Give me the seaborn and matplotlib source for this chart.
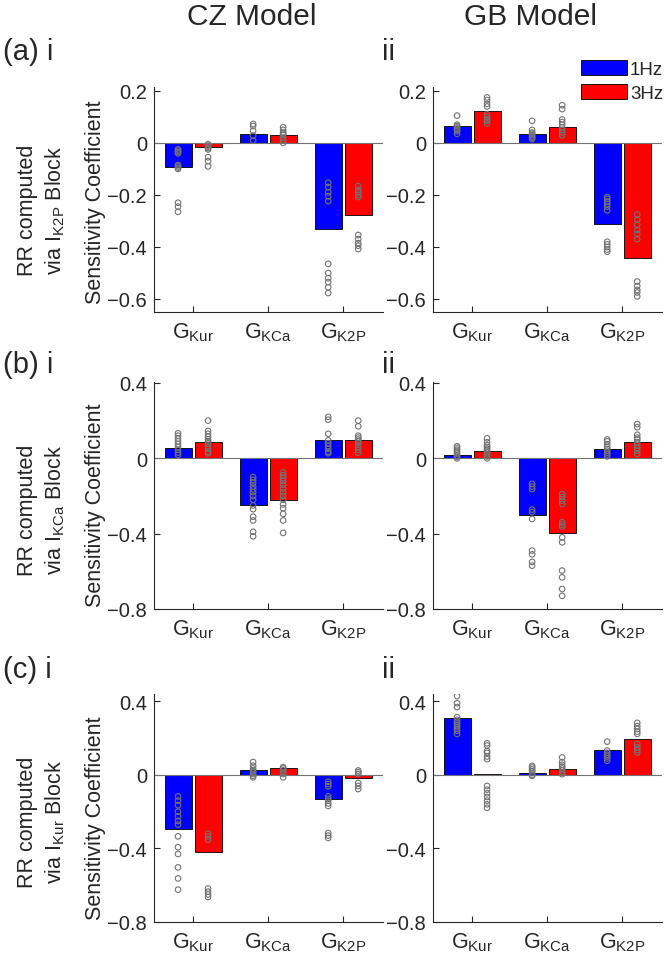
import numpy as np
import pandas as pd
import matplotlib
matplotlib.use('Agg')
import matplotlib.pyplot as plt
import seaborn as sns

sns.set_theme(style='ticks')
plt.rcParams['font.family'] = ['Liberation Sans', 'DejaVu Sans']
plt.rcParams['mathtext.fontset'] = 'custom'
plt.rcParams['mathtext.rm'] = 'Liberation Sans'
plt.rcParams['mathtext.it'] = 'Liberation Sans'
plt.rcParams['mathtext.default'] = 'regular'

channels = ['GKur', 'GKCa', 'GK2P']
channel_labels = ['G$_{Kur}$', 'G$_{KCa}$', 'G$_{K2P}$']
freqs = ['1Hz', '3Hz']

# ---- (a) RR via IK2P block ----
a_cz_bar_1hz = [-0.093, 0.033, -0.329]
a_cz_bar_3hz = [-0.015, 0.031, -0.279]
a_cz_pts_1hz = [[-0.025, -0.03, -0.035, -0.04, -0.085, -0.09, -0.095, -0.10, -0.23, -0.245, -0.265],
                [0.073, 0.065, 0.047, 0.028, 0.009],
                [-0.153, -0.17, -0.19, -0.205, -0.224, -0.465, -0.50, -0.52, -0.535, -0.555, -0.577]]
a_cz_pts_3hz = [[-0.005, -0.01, -0.015, -0.02, -0.025, -0.055, -0.07, -0.09],
                [0.06, 0.05, 0.04, 0.035, 0.03, 0.02, 0.01, 0.0],
                [-0.166, -0.18, -0.19, -0.20, -0.208, -0.354, -0.37, -0.385, -0.395, -0.408]]

a_gb_bar_1hz = [0.066, 0.034, -0.313]
a_gb_bar_3hz = [0.122, 0.062, -0.441]
a_gb_pts_1hz = [[0.105, 0.07, 0.065, 0.06, 0.055, 0.05, 0.045, 0.035],
                [0.085, 0.05, 0.04, 0.035, 0.03, 0.025, 0.02, 0.015],
                [-0.208, -0.215, -0.225, -0.235, -0.245, -0.259, -0.38, -0.39, -0.40, -0.41, -0.418]]
a_gb_pts_3hz = [[0.175, 0.165, 0.15, 0.14, 0.11, 0.10, 0.09, 0.085, 0.075],
                [0.145, 0.13, 0.09, 0.08, 0.07, 0.06, 0.05, 0.04, 0.03],
                [-0.275, -0.295, -0.315, -0.335, -0.35, -0.37, -0.533, -0.55, -0.565, -0.575, -0.59]]

# ---- (b) RR via IKCa block ----
b_cz_bar_1hz = [0.052, -0.249, 0.098]
b_cz_bar_3hz = [0.089, -0.219, 0.097]
b_cz_pts_1hz = [[0.133, 0.12, 0.105, 0.09, 0.075, 0.06, 0.045, 0.03, 0.018],
                [-0.10, -0.115, -0.13, -0.15, -0.165, -0.18, -0.20, -0.22, -0.25, -0.27, -0.31, -0.33, -0.39, -0.414],
                [0.22, 0.205, 0.13, 0.095, 0.08, 0.065, 0.05, 0.035, 0.027]]
b_cz_pts_3hz = [[0.20, 0.145, 0.13, 0.115, 0.10, 0.09, 0.08, 0.065, 0.05, 0.035, 0.027],
                [-0.075, -0.09, -0.105, -0.12, -0.14, -0.16, -0.18, -0.20, -0.22, -0.245, -0.265, -0.295, -0.33, -0.396],
                [0.20, 0.17, 0.12, 0.11, 0.10, 0.09, 0.08, 0.06, 0.045, 0.03]]

b_gb_bar_1hz = [0.018, -0.301, 0.048]
b_gb_bar_3hz = [0.041, -0.396, 0.087]
b_gb_pts_1hz = [[0.064, 0.055, 0.045, 0.035, 0.025, 0.015, 0.008, 0.0],
                [-0.136, -0.15, -0.163, -0.272, -0.285, -0.322, -0.49, -0.51, -0.55, -0.57],
                [0.10, 0.09, 0.075, 0.06, 0.05, 0.04, 0.03, 0.02, 0.01]]
b_gb_pts_3hz = [[0.106, 0.085, 0.07, 0.06, 0.05, 0.04, 0.03, 0.02, 0.01, 0.0],
                [-0.19, -0.205, -0.225, -0.242, -0.34, -0.352, -0.363, -0.42, -0.446, -0.596, -0.632, -0.694, -0.73],
                [0.182, 0.165, 0.125, 0.11, 0.10, 0.085, 0.07, 0.055, 0.04, 0.023]]

# ---- (c) RR via IKur block ----
c_cz_bar_1hz = [-0.292, 0.026, -0.132]
c_cz_bar_3hz = [-0.420, 0.037, -0.015]
c_cz_pts_1hz = [[-0.117, -0.14, -0.165, -0.20, -0.225, -0.25, -0.27, -0.334, -0.393, -0.43, -0.503, -0.563, -0.624],
                [0.07, 0.05, 0.035, 0.025, 0.015, 0.005, -0.005, -0.013],
                [-0.037, -0.05, -0.062, -0.117, -0.13, -0.14, -0.155, -0.169, -0.316, -0.33, -0.343]]
c_cz_pts_3hz = [[-0.32, -0.335, -0.352, -0.618, -0.635, -0.65, -0.664],
                [0.042, 0.035, 0.025, 0.015, 0.005, -0.013],
                [0.024, 0.015, 0.005, -0.044, -0.06, -0.077]]

c_gb_bar_1hz = [0.312, 0.013, 0.137]
c_gb_bar_3hz = [0.007, 0.031, 0.197]
c_gb_pts_1hz = [[0.429, 0.39, 0.369, 0.314, 0.30, 0.29, 0.28, 0.27, 0.26, 0.25, 0.24, 0.223],
                [0.049, 0.04, 0.03, 0.02, 0.01, 0.0, -0.005],
                [0.181, 0.132, 0.12, 0.11, 0.10, 0.09, 0.077]]
c_gb_pts_3hz = [[0.172, 0.16, 0.13, 0.12, 0.10, 0.086, -0.06, -0.08, -0.10, -0.12, -0.14, -0.16, -0.179],
                [0.095, 0.07, 0.055, 0.045, 0.035, 0.025, 0.015, 0.004],
                [0.283, 0.265, 0.25, 0.235, 0.223, 0.168, 0.15, 0.135, 0.122]]

row_ylabels = ['RR computed\nvia I$_{K2P}$ Block',
               'RR computed\nvia I$_{KCa}$ Block',
               'RR computed\nvia I$_{Kur}$ Block']
row_letters = ['(a) i', '(b) i', '(c) i']


def bar_frame(b1, b3):
    return pd.DataFrame({'channel': channels * 2,
                         'freq': ['1Hz'] * 3 + ['3Hz'] * 3,
                         'value': b1 + b3})


def point_frame(p1, p3):
    rows = []
    for freq, pts in (('1Hz', p1), ('3Hz', p3)):
        for ch, vals in zip(channels, pts):
            rows += [(ch, freq, v) for v in vals]
    return pd.DataFrame(rows, columns=['channel', 'freq', 'value'])


def draw_panel(ax, bars, points, ylim, yticks, legend=False):
    sns.barplot(data=bars, x='channel', y='value', hue='freq', order=channels,
                hue_order=freqs, palette=['#0000ff', '#ff0000'], saturation=1,
                gap=0.1, edgecolor='black', linewidth=0.6, errorbar=None,
                legend=legend, ax=ax)
    n = len(ax.collections)
    sns.stripplot(data=points, x='channel', y='value', hue='freq', order=channels,
                  hue_order=freqs, palette=['0.45', '0.45'], dodge=True,
                  jitter=False, size=4.0, edgecolor='0.45', linewidth=0.8,
                  legend=False, ax=ax)
    for c in ax.collections[n:]:
        c.set_facecolor('none')
    ax.axhline(0, color='0.45', lw=0.8, zorder=2)

    ax.set_xlim(-0.52, 2.53)
    ax.set_ylim(*ylim)
    ylabels = ['0' if t == 0 else f'{t:.1f}'.replace('-', '\u2212') for t in yticks]
    ax.set_yticks(yticks, ylabels)
    ax.set_xticks(range(3), channel_labels)
    ax.set_xlabel('')
    ax.set_ylabel('')
    sns.despine(ax=ax)
    for s in ['left', 'bottom']:
        ax.spines[s].set_color('0.15')
        ax.spines[s].set_linewidth(0.8)
    ax.tick_params(direction='in', length=4, width=0.8, color='0.15',
                   labelcolor='0.15', labelsize=14.5, pad=5)
    ax.tick_params(axis='x', labelsize=15.5, pad=6)


W, H = 666, 962
fig = plt.figure(figsize=(W / 100, H / 100), dpi=100)

col_left = [154, 433]
ax_w = 229
rows_px = [(88, 313), (383, 610), (695, 923)]
ylims = [(-0.65, 0.215), (-0.8, 0.405), (-0.8, 0.44)]
yticks_list = [[-0.6, -0.4, -0.2, 0, 0.2], [-0.8, -0.4, 0, 0.4], [-0.8, -0.4, 0, 0.4]]

panels = [
    [(a_cz_bar_1hz, a_cz_bar_3hz, a_cz_pts_1hz, a_cz_pts_3hz),
     (a_gb_bar_1hz, a_gb_bar_3hz, a_gb_pts_1hz, a_gb_pts_3hz)],
    [(b_cz_bar_1hz, b_cz_bar_3hz, b_cz_pts_1hz, b_cz_pts_3hz),
     (b_gb_bar_1hz, b_gb_bar_3hz, b_gb_pts_1hz, b_gb_pts_3hz)],
    [(c_cz_bar_1hz, c_cz_bar_3hz, c_cz_pts_1hz, c_cz_pts_3hz),
     (c_gb_bar_1hz, c_gb_bar_3hz, c_gb_pts_1hz, c_gb_pts_3hz)],
]

legend_ax = None
for r, (top, bottom) in enumerate(rows_px):
    for c in range(2):
        ax = fig.add_axes([col_left[c] / W, 1 - bottom / H, ax_w / W, (bottom - top) / H])
        b1, b3, p1, p3 = panels[r][c]
        show_leg = (r == 0 and c == 1)
        draw_panel(ax, bar_frame(b1, b3), point_frame(p1, p3), ylims[r], yticks_list[r], legend=show_leg)
        if show_leg:
            legend_ax = ax

sns.move_legend(legend_ax, 'upper right', bbox_to_anchor=(663 / W, 1 - 61 / H),
                bbox_transform=fig.transFigure, frameon=False, title=None,
                fontsize=13.5, handlelength=2.45, handleheight=0.85,
                handletextpad=0.15, labelspacing=0.3, borderaxespad=0, borderpad=0)

# column titles
fig.text(252 / W, 1 - 17 / H, 'CZ Model', ha='center', va='center', fontsize=21.5)
fig.text(530 / W, 1 - 17 / H, 'GB Model', ha='center', va='center', fontsize=21.5)

# row letters and labels
letter_y = [52, 365, 670]
sens_y = [202, 505, 818]
rr_y = [210, 510, 822]
for r in range(3):
    fig.text(3 / W, 1 - letter_y[r] / H, row_letters[r], ha='left', va='center', fontsize=21)
    fig.text(382 / W, 1 - letter_y[r] / H, 'ii', ha='left', va='center', fontsize=21)
    fig.text(96 / W, 1 - sens_y[r] / H, 'Sensitivity Coefficient', rotation=90,
             ha='center', va='center', fontsize=15.5)
    fig.text(42 / W, 1 - rr_y[r] / H, row_ylabels[r], rotation=90, ha='center',
             va='center', multialignment='center', linespacing=1.3, fontsize=15.5)

fig.savefig('out.png', dpi=100)
